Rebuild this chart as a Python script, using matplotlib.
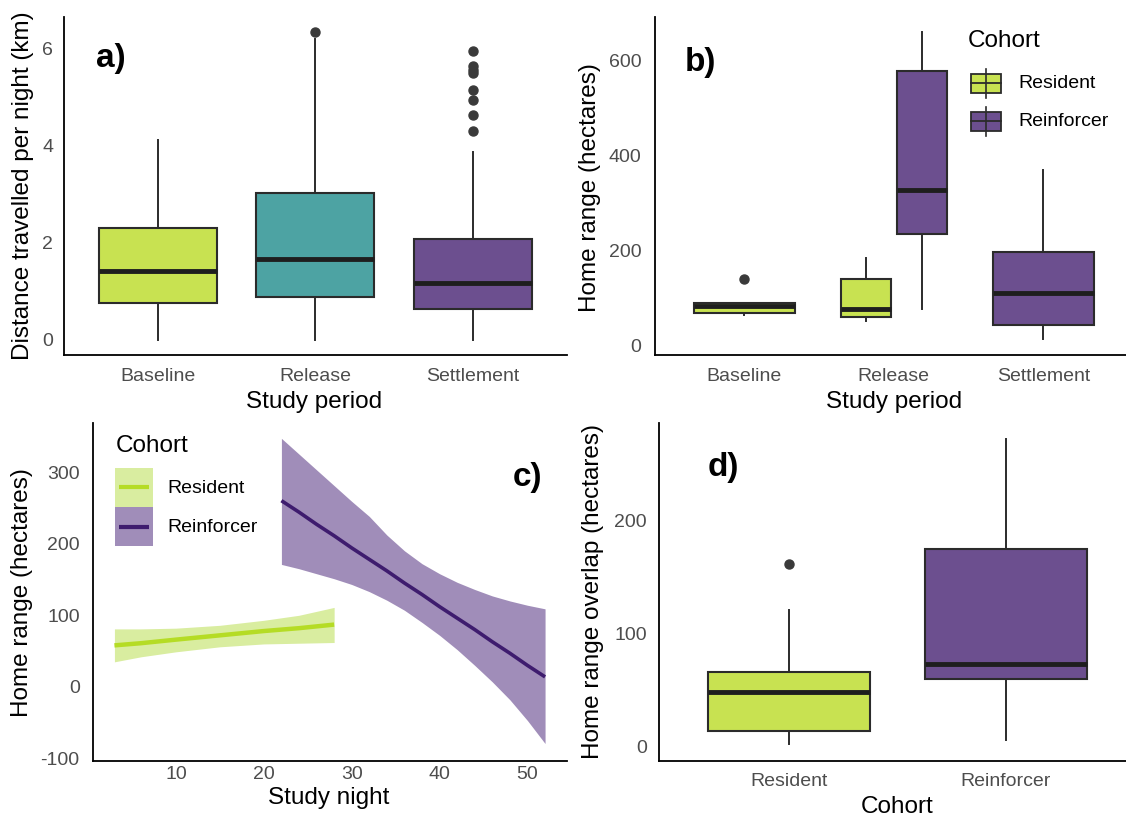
import numpy as np
import matplotlib
matplotlib.use("Agg")
import matplotlib.pyplot as plt
from matplotlib.patches import Rectangle
from matplotlib.lines import Line2D

W, H = 1126, 821

LIME = "#C8E251"; TEAL = "#4DA3A3"; PURPLE = "#6C4F8F"
LIME_LINE = "#B5DC25"; LIME_BAND = "#D9EDA0"
PURPLE_LINE = "#3E1C6E"; PURPLE_BAND = "#A08DB9"
EDGE = "#2B2B2B"; MED = "#1E1E1E"; TICK = "#4D4D4D"

plt.rcParams.update({"font.family": "Liberation Sans", "figure.dpi": 100,
                     "axes.unicode_minus": False})

# a) distance travelled per night, by study period
period = ["Baseline", "Release", "Settlement"]
a_q1 = [0.76, 0.87, 0.64]
a_med = [1.42, 1.66, 1.17]
a_q3 = [2.31, 3.03, 2.08]
a_lo = [0.0, 0.0, 0.0]
a_hi = [4.12, 6.21, 3.86]
a_out = [[], [6.34], [5.95, 5.64, 5.56, 5.49, 5.14, 4.94, 4.63, 4.31]]
a_col = [LIME, TEAL, PURPLE]

# b) home range by study period and cohort
b_period = ["Baseline", "Release", "Release", "Settlement"]
b_cohort = ["Resident", "Resident", "Reinforcer", "Reinforcer"]
b_q1 = [68, 60, 234, 43]
b_med = [83, 77, 327, 110]
b_q3 = [89, 140, 578, 196]
b_lo = [64, 52, 76, 13]
b_hi = [89, 184, 659, 369]
b_out = [[140], [], [], []]

# c) fitted home range against study night (line + 95% band)
res_x = [3, 6, 10, 15, 20, 24, 28]
res_fit = [58, 61, 66, 72, 78, 82, 87]
res_hi = [81, 81, 82, 86, 93, 100, 111]
res_lo = [35, 42, 49, 56, 60, 61, 62]
rein_x = [22, 24, 26, 28, 30, 32, 34, 36, 38, 40, 42, 44, 46, 48, 50, 52]
rein_fit = [260, 244, 227, 211, 194, 178, 162, 145, 129, 112, 96, 80,
            63, 47, 30, 14]
rein_hi = [347, 325, 303, 281, 259, 238, 212, 190, 172, 158, 146, 136,
           127, 120, 114, 109]
rein_lo = [171, 165, 158, 151, 143, 133, 121, 107, 90, 72, 52, 30,
           7, -18, -47, -79]

# d) home range overlap by cohort
cohort = ["Resident", "Reinforcer"]
d_q1 = [14, 60]
d_med = [48, 73]
d_q3 = [66, 175]
d_lo = [2, 6]
d_hi = [121, 273]
d_out = [[162], []]
cohort_col = {"Resident": LIME, "Reinforcer": PURPLE}


def px(x, y):
    return x / W, 1 - y / H


def frame(l, t, r, b):
    return [l / W, 1 - b / H, (r - l) / W, (b - t) / H]


def style(ax, xpad, ypad):
    for s in ("top", "right"):
        ax.spines[s].set_visible(False)
    for s in ("left", "bottom"):
        ax.spines[s].set_linewidth(1.3)
        ax.spines[s].set_color("black")
    ax.tick_params(length=0, labelsize=14, labelcolor=TICK)
    ax.tick_params(axis="x", pad=xpad)
    ax.tick_params(axis="y", pad=ypad)


def stats(q1, med, q3, lo, hi, out):
    return [dict(q1=a, med=m, q3=c, whislo=l, whishi=h, fliers=f)
            for a, m, c, l, h, f in zip(q1, med, q3, lo, hi, out)]


def boxes(ax, st, pos, widths, colors):
    art = ax.bxp(st, positions=pos, widths=widths, patch_artist=True,
                 showcaps=False,
                 boxprops=dict(edgecolor=EDGE, linewidth=1.5),
                 medianprops=dict(color=MED, linewidth=3.5,
                                  solid_capstyle="butt"),
                 whiskerprops=dict(color=EDGE, linewidth=1.4),
                 flierprops=dict(marker="o", markerfacecolor="#3A3A3A",
                                 markeredgecolor="#3A3A3A", markersize=6.5))
    for p, c in zip(art["boxes"], colors):
        p.set_facecolor(c)


fig = plt.figure(figsize=(W / 100, H / 100), dpi=100)

# ---- a)
ax = fig.add_axes(frame(63.6, 16.7, 567, 355))
pos = np.arange(1, len(period) + 1)
boxes(ax, stats(a_q1, a_med, a_q3, a_lo, a_hi, a_out), pos, 0.75, a_col)
ax.set_xlim(0.4, 3.6)
ax.set_ylim(-0.317, 6.66)
ax.set_xticks(pos, period)
ax.set_yticks([0, 2, 4, 6])
style(ax, 9.5, 7.5)

# ---- b)  (boxes dodged within each period)
ax = fig.add_axes(frame(654.6, 16.7, 1126, 355))
b_pos, b_w = [], []
for i, per in enumerate(b_period):
    grp = [j for j, p in enumerate(b_period) if p == per]
    centre = period.index(per) + 1
    if len(grp) == 1:
        b_pos.append(centre); b_w.append(0.675)
    else:
        k = grp.index(i)
        b_pos.append(centre + (k - 0.5) * 0.375); b_w.append(0.3375)
boxes(ax, stats(b_q1, b_med, b_q3, b_lo, b_hi, b_out), b_pos, b_w,
      [cohort_col[c] for c in b_cohort])
ax.set_xlim(0.4, 0.4 + (1126 - 654.6) / 149.5)
ax.set_ylim(-20, 692)
ax.set_xticks(pos, period)
ax.set_yticks([0, 200, 400, 600])
style(ax, 9.5, 9.5)

# ---- c)
ax = fig.add_axes(frame(92.9, 423.3, 566.6, 760.7))
ax.fill_between(res_x, res_lo, res_hi, color=LIME_BAND, lw=0)
ax.plot(res_x, res_fit, color=LIME_LINE, lw=3.2, solid_capstyle="butt")
ax.fill_between(rein_x, rein_lo, rein_hi, color=PURPLE_BAND, lw=0)
ax.plot(rein_x, rein_fit, color=PURPLE_LINE, lw=2.6, solid_capstyle="butt")
ax.set_xlim(0.55, 54.45)
ax.set_ylim(-103, 368)
ax.set_xticks([10, 20, 30, 40, 50])
ax.set_yticks([-100, 0, 100, 200, 300])
style(ax, 4, 9.5)

# ---- d)
ax = fig.add_axes(frame(659.3, 423.3, 1126, 760.7))
dpos = np.arange(1, len(cohort) + 1)
boxes(ax, stats(d_q1, d_med, d_q3, d_lo, d_hi, d_out), dpos, 0.75,
      [cohort_col[c] for c in cohort])
ax.set_xlim(0.4, 0.4 + (1126 - 659.3) / 216.5)
ax.set_ylim(-12.6, 286.6)
ax.set_xticks(dpos, cohort)
ax.set_yticks([0, 100, 200])
style(ax, 9, 9)

# axis titles
TS = 17.5
fig.text(*px(23, 186), "Distance travelled per night (km)", rotation=90,
         ha="center", va="center", fontsize=TS)
fig.text(*px(314, 402), "Study period", ha="center", va="center", fontsize=TS)
fig.text(*px(590, 188), "Home range (hectares)", rotation=90,
         ha="center", va="center", fontsize=TS)
fig.text(*px(894, 402), "Study period", ha="center", va="center", fontsize=TS)
fig.text(*px(22, 593), "Home range (hectares)", rotation=90,
         ha="center", va="center", fontsize=TS)
fig.text(*px(329, 798), "Study night", ha="center", va="center", fontsize=TS)
fig.text(*px(593, 591), "Home range overlap (hectares)", rotation=90,
         ha="center", va="center", fontsize=TS)
fig.text(*px(897, 807), "Cohort", ha="center", va="center", fontsize=TS)

# panel tags
for s, x, y in [("a)", 111, 58), ("b)", 700, 62), ("c)", 527, 477),
                ("d)", 723, 467)]:
    fig.text(*px(x, y), s, ha="center", va="center", fontsize=24,
             fontweight="bold")

# legend, panel b (boxplot keys)
fig.text(*px(968, 41), "Cohort", ha="left", va="center", fontsize=TS)
for lab, y0 in [("Resident", 74), ("Reinforcer", 112)]:
    cx = 985.5
    fig.add_artist(Line2D([cx / W] * 2, [1 - (y0 - 5) / H, 1 - (y0 + 24) / H],
                          color=EDGE, lw=1.2))
    fig.add_artist(Rectangle(px(970.5, y0 + 19), 30 / W, 19 / H,
                             facecolor=cohort_col[lab], edgecolor=EDGE, lw=1.3))
    fig.add_artist(Line2D([970.5 / W, 1000.5 / W], [1 - (y0 + 9.5) / H] * 2,
                          color=EDGE, lw=1.3))
    fig.text(*px(1018, y0 + 9.5), lab, ha="left", va="center", fontsize=14)

# legend, panel c (line + band keys)
fig.text(*px(116, 446), "Cohort", ha="left", va="center", fontsize=TS)
for lab, y0, band, line in [("Resident", 468, LIME_BAND, LIME_LINE),
                            ("Reinforcer", 507, PURPLE_BAND, PURPLE_LINE)]:
    fig.add_artist(Rectangle(px(115, y0 + 39), 38 / W, 39 / H,
                             facecolor=band, lw=0))
    fig.add_artist(Line2D([119 / W, 149 / W], [1 - (y0 + 19.5) / H] * 2,
                          color=line, lw=3, solid_capstyle="butt"))
    fig.text(*px(167, y0 + 20), lab, ha="left", va="center", fontsize=14)

fig.savefig("out.png", dpi=100)
